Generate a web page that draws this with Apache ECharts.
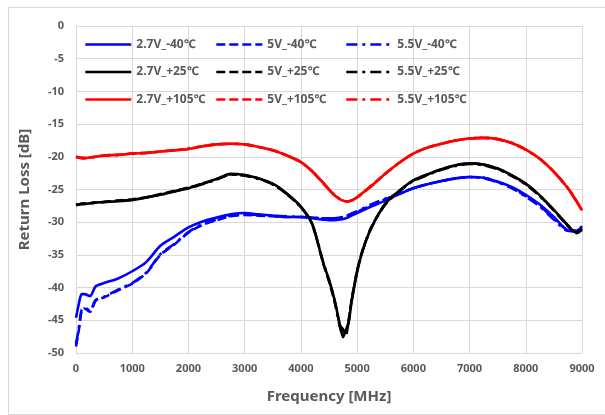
<!DOCTYPE html>
<html>
<head>
<meta charset="utf-8">
<script src="https://cdn.jsdelivr.net/npm/echarts@6/dist/echarts.min.js"></script>
<style>html,body{margin:0;padding:0;background:#fff;}#c{width:605px;height:415px;}</style>
</head>
<body>
<div id="c"></div>
<script>
// Frequency grid (MHz)
const freq = [0, 50, 100, 150, 250, 350, 500, 750, 1000, 1250, 1500, 1750, 2000, 2250, 2500, 2750, 3000, 3250, 3500, 3750, 4000, 4200, 4400, 4500, 4600, 4700, 4750, 4800, 4850, 4900, 5000, 5100, 5250, 5500, 5750, 6000, 6250, 6500, 6750, 7000, 7250, 7500, 7750, 8000, 8250, 8500, 8750, 8900, 9000];

// Return loss (dB)
const v27_m40 = [-44.6, -42.5, -41.0, -41.0, -41.3, -39.8, -39.3, -38.6, -37.5, -36.1, -33.6, -32.2, -30.8, -29.9, -29.3, -28.8, -28.6, -28.8, -29.0, -29.2, -29.2, -29.4, -29.6, -29.7, -29.7, -29.6, -29.5, -29.4, -29.2, -29.0, -28.6, -28.2, -27.6, -26.7, -25.7, -24.8, -24.2, -23.7, -23.3, -23.1, -23.2, -23.8, -24.6, -25.8, -27.3, -29.2, -31.3, -31.4, -30.6];
const v5_m40 = [-49.0, -46.5, -43.5, -43.2, -43.7, -42.0, -41.5, -40.4, -39.4, -37.8, -35.0, -33.4, -31.6, -30.4, -29.7, -29.1, -28.9, -29.0, -29.1, -29.2, -29.2, -29.3, -29.4, -29.4, -29.4, -29.3, -29.2, -29.1, -28.9, -28.7, -28.4, -28.0, -27.4, -26.5, -25.6, -24.8, -24.2, -23.7, -23.3, -23.1, -23.2, -23.8, -24.7, -26.0, -27.5, -29.5, -31.2, -31.3, -30.8];
const v55_m40 = [-48.6, -46.2, -43.4, -43.1, -43.5, -41.9, -41.4, -40.3, -39.3, -37.7, -34.9, -33.3, -31.5, -30.3, -29.6, -29.0, -28.8, -28.9, -29.0, -29.1, -29.2, -29.3, -29.4, -29.4, -29.4, -29.3, -29.2, -29.0, -28.9, -28.7, -28.3, -27.9, -27.3, -26.4, -25.6, -24.8, -24.2, -23.7, -23.3, -23.1, -23.3, -23.9, -24.8, -26.1, -27.6, -29.6, -31.3, -31.2, -30.9];

const v27_p25 = [-27.4, -27.3, -27.2, -27.2, -27.1, -27.0, -26.9, -26.8, -26.6, -26.2, -25.8, -25.3, -24.8, -24.1, -23.4, -22.6, -22.8, -23.3, -24.1, -25.6, -27.6, -30.2, -36.3, -38.8, -41.9, -46.0, -47.6, -46.5, -45.3, -42.3, -37.6, -34.3, -30.9, -27.2, -25.2, -23.6, -22.7, -21.9, -21.3, -21.0, -21.2, -21.8, -22.8, -24.1, -25.9, -28.1, -30.5, -31.6, -31.0];
const v5_p25 = [-27.3, -27.3, -27.2, -27.1, -27.1, -27.0, -26.9, -26.7, -26.5, -26.2, -25.7, -25.2, -24.7, -24.1, -23.4, -22.7, -22.8, -23.3, -24.2, -25.7, -27.7, -30.3, -36.4, -39.0, -42.2, -45.8, -46.4, -47.3, -45.0, -42.0, -37.4, -34.2, -30.8, -27.2, -25.2, -23.6, -22.7, -21.9, -21.3, -21.0, -21.2, -21.8, -22.9, -24.2, -26.0, -28.2, -30.6, -31.7, -31.2];
const v55_p25 = [-27.4, -27.3, -27.2, -27.2, -27.1, -27.0, -26.9, -26.7, -26.6, -26.2, -25.8, -25.3, -24.8, -24.2, -23.5, -22.7, -22.9, -23.4, -24.2, -25.7, -27.7, -30.3, -36.2, -38.9, -42.0, -46.2, -47.1, -46.9, -45.1, -42.1, -37.5, -34.3, -30.9, -27.3, -25.3, -23.7, -22.8, -22.0, -21.4, -21.1, -21.3, -21.9, -22.9, -24.2, -26.0, -28.2, -30.5, -31.5, -31.1];

const v27_p105 = [-20.0, -20.1, -20.2, -20.2, -20.1, -20.0, -19.8, -19.7, -19.5, -19.4, -19.2, -19.0, -18.8, -18.4, -18.1, -18.0, -18.1, -18.5, -19.0, -19.8, -20.8, -22.2, -24.0, -25.0, -25.9, -26.5, -26.7, -26.8, -26.8, -26.7, -26.2, -25.5, -24.5, -22.6, -20.9, -19.5, -18.6, -18.0, -17.5, -17.2, -17.1, -17.3, -17.9, -18.9, -20.3, -22.3, -24.8, -26.8, -28.2];
const v5_p105 = [-20.0, -20.1, -20.1, -20.2, -20.1, -20.0, -19.8, -19.7, -19.5, -19.4, -19.2, -19.0, -18.8, -18.4, -18.1, -18.0, -18.1, -18.5, -19.0, -19.8, -20.8, -22.2, -24.1, -25.0, -25.9, -26.5, -26.7, -26.8, -26.8, -26.6, -26.2, -25.5, -24.4, -22.6, -20.9, -19.5, -18.6, -18.0, -17.5, -17.2, -17.1, -17.3, -17.9, -18.9, -20.3, -22.3, -24.8, -26.7, -28.1];
const v55_p105 = [-20.0, -20.1, -20.2, -20.2, -20.1, -20.0, -19.8, -19.7, -19.5, -19.4, -19.2, -19.0, -18.7, -18.4, -18.1, -18.0, -18.1, -18.5, -19.0, -19.8, -20.8, -22.2, -24.0, -25.0, -25.9, -26.5, -26.7, -26.8, -26.8, -26.7, -26.2, -25.5, -24.5, -22.6, -20.9, -19.5, -18.6, -18.0, -17.5, -17.2, -17.1, -17.3, -17.9, -18.9, -20.3, -22.3, -24.8, -26.8, -28.2];

const seriesNames = ['2.7V_-40℃', '2.7V_+25℃', '2.7V_+105℃', '5V_-40℃', '5V_+25℃', '5V_+105℃', '5.5V_-40℃', '5.5V_+25℃', '5.5V_+105℃'];
const seriesData = [v27_m40, v27_p25, v27_p105, v5_m40, v5_p25, v5_p105, v55_m40, v55_p25, v55_p105];
const colors = ['#0000ff', '#000000', '#ff0000'];
const dashes = ['solid', [9, 4], [11, 5, 3, 5]];

const xTicks = {min: 0, max: 9000, interval: 1000};
const yTicks = {min: -50, max: 0, interval: 5};

const txt = '#595959';
const gridCol = '#d9d9d9';
const font = 'Noto Sans';

const series = [];
// draw 5.5V, then 5V, then 2.7V (solid lines on top)
for (let g = 2; g >= 0; g--) {
  for (let k = 0; k < 3; k++) {
    const idx = g * 3 + k;
    series.push({
      name: seriesNames[idx],
      type: 'line',
      data: freq.map((f, i) => [f, seriesData[idx][i]]),
      symbol: 'none',
      showSymbol: false,
      legendIcon: 'none',
      smooth: 0.25,
      lineStyle: {color: colors[k], width: 2.6, type: dashes[g], cap: 'butt'},
      itemStyle: {color: colors[k]},
      silent: true,
      animation: false
    });
  }
}

function legendCol(left, names) {
  return {
    data: names,
    orient: 'vertical',
    left: left,
    top: 36,
    itemWidth: 46,
    itemHeight: 14,
    itemGap: 10.5,
    selectedMode: false,
    itemStyle: {opacity: 0, borderWidth: 0},
    lineStyle: {width: 2.6},
    textStyle: {color: txt, fontSize: 12, fontWeight: 'bold', fontFamily: font, lineHeight: 17},
    padding: 0
  };
}

const option = {
  animation: false,
  backgroundColor: '#fff',
  grid: {left: 76, right: 23, top: 26, bottom: 62, containLabel: false},
  legend: [
    legendCol(84, seriesNames.slice(0, 3)),
    legendCol(215, seriesNames.slice(3, 6)),
    legendCol(345, seriesNames.slice(6, 9))
  ],
  graphic: [{
    type: 'rect', left: 6, top: 5, silent: true,
    shape: {width: 597, height: 407},
    style: {fill: 'none', stroke: gridCol, lineWidth: 1}
  }],
  xAxis: {
    type: 'value', min: xTicks.min, max: xTicks.max, interval: xTicks.interval,
    name: 'Frequency [MHz]', nameLocation: 'middle', nameGap: 36,
    nameTextStyle: {color: txt, fontSize: 15, fontWeight: 'bold', fontFamily: font},
    axisLine: {show: true, lineStyle: {color: gridCol, width: 1}},
    axisTick: {show: false},
    axisLabel: {color: txt, fontSize: 11, fontWeight: 'bold', fontFamily: font, margin: 10, formatter: v => String(v)},
    splitLine: {show: true, lineStyle: {color: gridCol, width: 1}}
  },
  yAxis: {
    type: 'value', min: yTicks.min, max: yTicks.max, interval: yTicks.interval,
    name: 'Return Loss [dB]', nameLocation: 'middle', nameGap: 44, nameRotate: 90,
    nameTextStyle: {color: txt, fontSize: 15, fontWeight: 'bold', fontFamily: font},
    axisLine: {show: true, lineStyle: {color: gridCol, width: 1}},
    axisTick: {show: false},
    axisLabel: {color: txt, fontSize: 11, fontWeight: 'bold', fontFamily: font, margin: 12, formatter: v => String(v)},
    splitLine: {show: true, lineStyle: {color: gridCol, width: 1}}
  },
  series: series
};

const chart = echarts.init(document.getElementById('c'), null, {renderer: 'canvas'});
chart.setOption(option);
</script>
</body>
</html>
